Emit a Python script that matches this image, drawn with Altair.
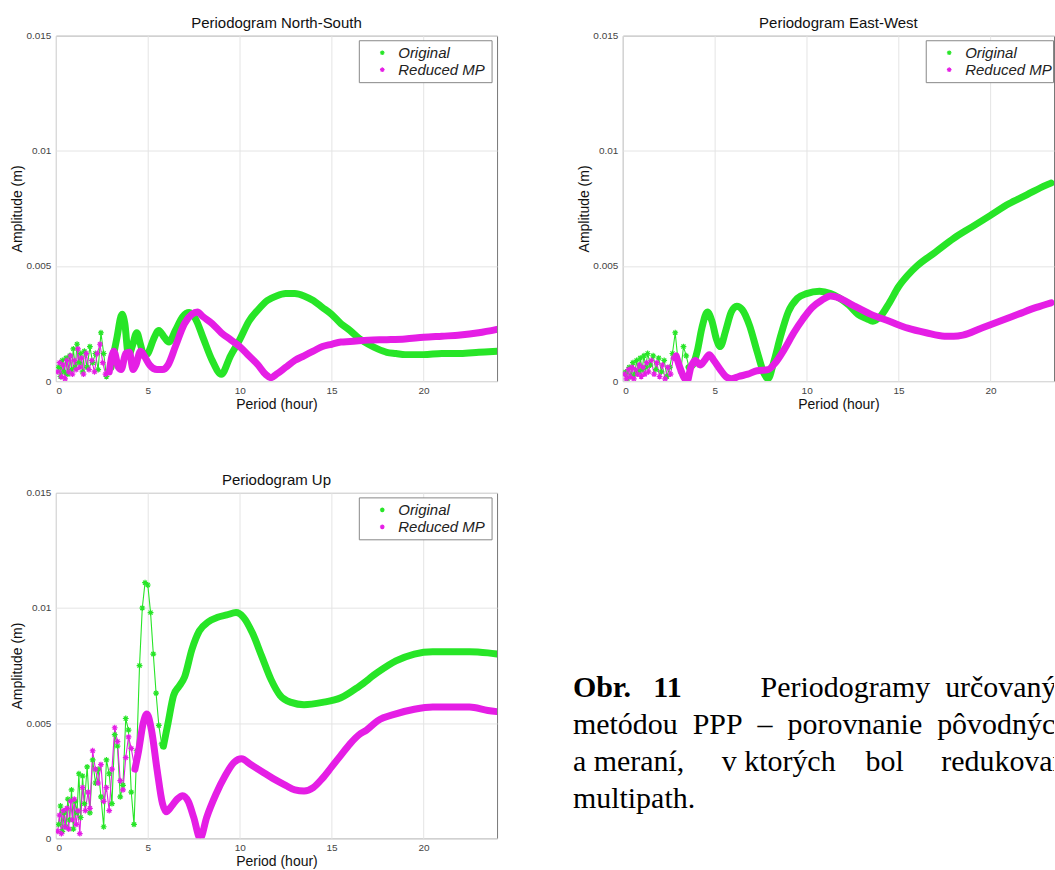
import altair as alt
import pandas as pd

GREEN = "#27e527"
MAGENTA = "#e51ee5"
ASTERISK = "M-1,0L1,0M0,-1L0,1M-0.7,-0.7L0.7,0.7M-0.7,0.7L0.7,-0.7"

series_names = ["Original", "Reduced MP"]
period_ticks = [0, 5, 10, 15, 20]
amp_ticks = [0, 0.005, 0.01, 0.015]

# ---------------- North-South ----------------
ns_orig_sparse = [(0.15, 0.0006), (0.25, 0.0002), (0.35, 0.0009), (0.45, 0.0004), (0.55, 0.0010),
                  (0.65, 0.0003), (0.75, 0.0011), (0.85, 0.0005), (0.95, 0.0014), (1.05, 0.0006),
                  (1.15, 0.0016), (1.25, 0.0008), (1.35, 0.0012), (1.45, 0.0004), (1.55, 0.0013),
                  (1.7, 0.0006), (1.85, 0.0015), (2.0, 0.0008), (2.15, 0.0012), (2.3, 0.0005),
                  (2.45, 0.0021), (2.6, 0.0012), (2.75, 0.0002), (2.9, 0.0004)]
ns_orig_dense = [(3.0, 0.0006), (3.3, 0.0018), (3.6, 0.0029), (3.75, 0.0025), (3.95, 0.0011),
                 (4.15, 0.0015), (4.4, 0.0021), (4.6, 0.0016), (4.8, 0.0011), (5.0, 0.0012),
                 (5.3, 0.0018), (5.6, 0.0022), (5.9, 0.0019), (6.15, 0.0017), (6.5, 0.0022),
                 (6.9, 0.0028), (7.25, 0.00298), (7.6, 0.0027), (8.0, 0.0019), (8.5, 0.0009),
                 (9.0, 0.0003), (9.5, 0.0011), (10.0, 0.0018), (10.5, 0.0026), (11.0, 0.0031),
                 (11.5, 0.0035), (12.0, 0.0037), (12.5, 0.0038), (13.0, 0.0038), (13.5, 0.0037),
                 (14.0, 0.0035), (14.5, 0.0032), (15.0, 0.0029), (15.5, 0.0025), (16.0, 0.0022),
                 (16.5, 0.00185), (17.0, 0.0016), (17.5, 0.0014), (18.0, 0.00125), (18.5, 0.0012),
                 (19.0, 0.00115), (20.0, 0.00115), (21.0, 0.0012), (22.0, 0.0012), (23.0, 0.00125),
                 (24.0, 0.0013)]
ns_red_sparse = [(0.1, 0.0004), (0.2, 0.0008), (0.3, 0.0002), (0.4, 0.0007), (0.5, 0.0001),
                 (0.6, 0.0009), (0.7, 0.0004), (0.8, 0.0011), (0.9, 0.0003), (1.0, 0.0009),
                 (1.1, 0.0005), (1.2, 0.0014), (1.3, 0.0006), (1.4, 0.0010), (1.5, 0.0003),
                 (1.65, 0.0012), (1.8, 0.0005), (1.95, 0.0009), (2.1, 0.0004), (2.25, 0.0012),
                 (2.4, 0.0016), (2.55, 0.0008), (2.7, 0.0003)]
ns_red_dense = [(2.9, 0.0004), (3.15, 0.0013), (3.4, 0.0006), (3.55, 0.0005), (3.8, 0.0012),
                (4.0, 0.00125), (4.2, 0.0005), (4.35, 0.0007), (4.6, 0.0013), (4.8, 0.0011),
                (5.1, 0.0007), (5.5, 0.0005), (5.8, 0.0005), (6.1, 0.0007), (6.5, 0.0015),
                (7.0, 0.0025), (7.4, 0.0029), (7.7, 0.0030), (8.0, 0.0028), (8.5, 0.0025),
                (9.0, 0.0021), (9.5, 0.0018), (10.0, 0.0015), (10.5, 0.0011), (11.0, 0.0007),
                (11.4, 0.0003), (11.7, 0.00015), (12.0, 0.0003), (12.5, 0.0006), (13.0, 0.0009),
                (13.5, 0.0011), (14.0, 0.0013), (14.5, 0.0015), (15.0, 0.0016), (15.5, 0.0017),
                (16.0, 0.00172), (17.0, 0.00178), (18.0, 0.0018), (19.0, 0.00183), (20.0, 0.0019),
                (21.0, 0.00195), (22.0, 0.0020), (23.0, 0.0021), (24.0, 0.00225)]

# ---------------- East-West (the figure is cut at ~23.4 h by the page edge) ----------------
ew_orig_sparse = [(0.15, 0.0004), (0.25, 0.0001), (0.35, 0.0006), (0.45, 0.0002), (0.55, 0.0008),
                  (0.65, 0.0003), (0.75, 0.0009), (0.85, 0.0004), (0.95, 0.0010), (1.05, 0.0005),
                  (1.15, 0.0011), (1.25, 0.0006), (1.35, 0.0012), (1.5, 0.0007), (1.65, 0.0011),
                  (1.8, 0.0005), (1.95, 0.0010), (2.1, 0.0004), (2.25, 0.0009), (2.4, 0.0002),
                  (2.55, 0.0006), (2.7, 0.0012), (2.85, 0.0021), (3.0, 0.0009), (3.15, 0.0004),
                  (3.3, 0.0015), (3.45, 0.0011)]
ew_orig_dense = [(3.6, 0.0006), (3.8, 0.0007), (4.05, 0.0013), (4.3, 0.0023), (4.6, 0.0030),
                 (4.85, 0.0026), (5.1, 0.0018), (5.3, 0.0015), (5.6, 0.0022), (5.9, 0.0030),
                 (6.2, 0.00325), (6.5, 0.0031), (6.9, 0.0024), (7.3, 0.0013), (7.7, 0.0003),
                 (7.9, 0.0001), (8.2, 0.0008), (8.6, 0.0020), (9.0, 0.0030), (9.5, 0.0036),
                 (10.0, 0.0038), (10.7, 0.0039), (11.3, 0.0038), (11.8, 0.0036), (12.3, 0.0033),
                 (12.8, 0.0029), (13.3, 0.0027), (13.6, 0.0026), (14.0, 0.0028), (14.5, 0.0034),
                 (15.0, 0.0041), (15.5, 0.0046), (16.0, 0.0050), (17.0, 0.0056), (18.0, 0.0062),
                 (19.0, 0.0067), (20.0, 0.0072), (21.0, 0.0077), (22.0, 0.0081), (23.0, 0.0085),
                 (23.3, 0.0086)]
ew_red_sparse = [(0.1, 0.0003), (0.2, 0.0001), (0.3, 0.0005), (0.4, 0.0002), (0.5, 0.0006),
                 (0.6, 0.0001), (0.7, 0.0005), (0.8, 0.0003), (0.9, 0.0007), (1.0, 0.0002),
                 (1.1, 0.0006), (1.2, 0.0003), (1.3, 0.0008), (1.4, 0.0004), (1.55, 0.0009),
                 (1.7, 0.0003), (1.85, 0.0008), (2.0, 0.0002), (2.15, 0.0007), (2.3, 0.0001),
                 (2.45, 0.0006), (2.6, 0.0003), (2.75, 0.0010)]
ew_red_dense = [(2.9, 0.0011), (3.1, 0.0006), (3.3, 0.0002), (3.5, 0.0000), (3.7, 0.0006),
                (3.95, 0.0009), (4.2, 0.0007), (4.45, 0.0009), (4.7, 0.00115), (4.95, 0.0009),
                (5.3, 0.0005), (5.6, 0.0002), (5.9, 0.0001), (6.3, 0.0002), (6.8, 0.0003),
                (7.3, 0.00045), (7.9, 0.0005), (8.3, 0.0008), (8.8, 0.0014), (9.3, 0.0021),
                (9.8, 0.0027), (10.3, 0.0032), (10.8, 0.0035), (11.3, 0.0037), (11.8, 0.0036),
                (12.5, 0.0033), (13.5, 0.0029), (14.5, 0.0026), (15.5, 0.0023), (16.5, 0.0021),
                (17.5, 0.00195), (18.0, 0.00195), (18.5, 0.0020), (19.5, 0.0023), (20.5, 0.0026),
                (21.5, 0.0029), (22.5, 0.0032), (23.3, 0.0034)]

# ---------------- Up ----------------
up_orig_sparse = [(0.15, 0.0006), (0.25, 0.0014), (0.35, 0.0003), (0.45, 0.0011), (0.55, 0.0005),
                  (0.65, 0.0017), (0.75, 0.0008), (0.85, 0.0021), (0.95, 0.0004), (1.05, 0.0016),
                  (1.15, 0.0011), (1.25, 0.0028), (1.35, 0.0009), (1.45, 0.0027), (1.55, 0.0015),
                  (1.7, 0.0031), (1.85, 0.0011), (2.0, 0.0034), (2.15, 0.0024), (2.3, 0.0030),
                  (2.45, 0.0018), (2.6, 0.0005), (2.75, 0.0034), (2.9, 0.0028), (3.05, 0.0015),
                  (3.2, 0.0045), (3.35, 0.0040), (3.5, 0.0018), (3.65, 0.0023), (3.8, 0.0052),
                  (3.95, 0.0047), (4.1, 0.0020), (4.25, 0.0006), (4.4, 0.0038), (4.55, 0.0075),
                  (4.7, 0.0100), (4.85, 0.0111), (5.0, 0.0110), (5.15, 0.0098), (5.3, 0.0080),
                  (5.45, 0.0063), (5.6, 0.0049), (5.75, 0.0041)]
up_orig_dense = [(5.85, 0.0040), (6.1, 0.0050), (6.4, 0.0062), (6.7, 0.0066), (7.0, 0.0070),
                 (7.4, 0.0082), (7.8, 0.0090), (8.3, 0.0094), (8.8, 0.0096), (9.3, 0.0097),
                 (9.8, 0.0098), (10.2, 0.0096), (10.7, 0.0089), (11.2, 0.0079), (11.7, 0.0069),
                 (12.2, 0.0062), (12.8, 0.0059), (13.5, 0.0058), (14.5, 0.0059), (15.5, 0.0061),
                 (16.5, 0.0066), (17.5, 0.0072), (18.5, 0.0077), (19.5, 0.0080), (20.5, 0.0081),
                 (21.5, 0.0081), (22.5, 0.0081), (23.5, 0.00805), (24.0, 0.0080)]
up_red_sparse = [(0.1, 0.0003), (0.2, 0.0010), (0.3, 0.0002), (0.4, 0.0012), (0.5, 0.0005),
                 (0.6, 0.0013), (0.7, 0.0004), (0.8, 0.0016), (0.9, 0.0008), (1.0, 0.0017),
                 (1.1, 0.0006), (1.2, 0.0012), (1.3, 0.0002), (1.45, 0.0022), (1.6, 0.0012),
                 (1.75, 0.0020), (1.85, 0.0013), (2.0, 0.0038), (2.15, 0.0030), (2.3, 0.0024),
                 (2.45, 0.0032), (2.6, 0.0016), (2.75, 0.0022), (2.9, 0.0012), (3.05, 0.0030),
                 (3.2, 0.0048), (3.35, 0.0042), (3.5, 0.0025), (3.65, 0.0021), (3.8, 0.0035),
                 (3.95, 0.0044), (4.1, 0.0039)]
up_red_dense = [(4.3, 0.0030), (4.5, 0.0038), (4.75, 0.0050), (4.95, 0.0054), (5.2, 0.0047),
                (5.5, 0.0030), (5.8, 0.0015), (6.0, 0.00115), (6.3, 0.0014), (6.6, 0.0017),
                (6.9, 0.00185), (7.2, 0.0016), (7.5, 0.0009), (7.85, 0.0000), (8.2, 0.0009),
                (8.7, 0.0019), (9.2, 0.0027), (9.7, 0.0033), (10.1, 0.00345), (10.6, 0.0032),
                (11.2, 0.0029), (11.8, 0.0026), (12.5, 0.0023), (13.0, 0.0021), (13.5, 0.00205),
                (14.0, 0.0022), (14.5, 0.0026), (15.0, 0.0031), (15.5, 0.0036), (16.0, 0.0041),
                (16.5, 0.0045), (16.9, 0.0047), (17.5, 0.0051), (18.5, 0.0054), (19.5, 0.0056),
                (20.5, 0.0057), (21.5, 0.0057), (22.5, 0.0057), (23.5, 0.00555), (24.0, 0.0055)]

# ---------------- Caption ----------------
NB = "\u00a0"
caption_label = "Obr." + NB * 3 + "11"
caption_first = "Periodogramy" + NB * 2 + "určovaných" + NB * 2 + "súradníc"
caption_rest = [
    "metódou" + NB * 2 + "PPP" + NB * 2 + "–" + NB * 2 + "porovnanie" + NB * 2 + "pôvodných",
    "a meraní," + NB * 5 + "v ktorých" + NB * 4 + "bol" + NB * 5 + "redukovaný",
    "multipath.",
]

PW, PH = 442, 346
PX_PER_HOUR = PW / 24
GRID = "#e4e4e4"


def make_df(orig_sparse, orig_dense, red_sparse, red_dense):
    rows = []
    for name, sparse, dense in [("Original", orig_sparse, orig_dense),
                                ("Reduced MP", red_sparse, red_dense)]:
        for p, a in sparse:
            rows.append({"period": p, "amp": a, "series": name, "part": "sparse"})
        for p, a in dense:
            rows.append({"period": p, "amp": a, "series": name, "part": "dense"})
    return pd.DataFrame(rows)


def legend_layers(width):
    # legend box drawn inside the plot (clipped by the page edge for East-West)
    box_df = pd.DataFrame({"k": [0]})
    lab_df = pd.DataFrame({"series": series_names})
    box = alt.Chart(box_df).mark_rect(fill="white", stroke="#888", strokeWidth=1, clip=True).encode(
        x=alt.value(PW - 138), x2=alt.value(min(PW - 5, width - 0.5)),
        y=alt.value(5), y2=alt.value(47))
    layers = [box]
    for i, (name, col) in enumerate(zip(series_names, [GREEN, MAGENTA])):
        yy = 17 + 17 * i
        sub = alt.Chart(lab_df).transform_filter(alt.datum.series == name)
        layers.append(sub.mark_point(shape=ASTERISK, filled=False, size=22, strokeWidth=1.2,
                                     opacity=1, clip=True).encode(
            x=alt.value(PW - 115), y=alt.value(yy), color=alt.value(col)))
        layers.append(sub.mark_text(align="left", baseline="middle", font="Liberation Sans",
                                    fontSize=15, fontStyle="italic", color="#222", clip=True).encode(
            x=alt.value(PW - 99), y=alt.value(yy), text="series:N"))
    return layers


def panel(title, df, width=PW):
    base = alt.Chart(df)
    x = alt.X("period:Q", scale=alt.Scale(domain=[0, width / PX_PER_HOUR], nice=False),
              axis=alt.Axis(values=period_ticks, format="d", title="Period (hour)"))
    y = alt.Y("amp:Q", scale=alt.Scale(domain=[0, 0.015], nice=False),
              axis=alt.Axis(values=amp_ticks, labelExpr="format(datum.value, '~g')",
                            title="Amplitude (m)"))
    cscale = alt.Scale(domain=series_names, range=[GREEN, MAGENTA])
    color = alt.Color("series:N", scale=cscale, legend=None)
    thin = base.mark_line(strokeWidth=1.1, clip=True).encode(x=x, y=y, color=color)
    pts = base.transform_filter(alt.datum.part == "sparse").mark_point(
        shape=ASTERISK, filled=False, size=34, strokeWidth=1.2, opacity=1, clip=True
    ).encode(x=x, y=y, color=color)
    thick = base.transform_filter(alt.datum.part == "dense").mark_line(
        strokeWidth=7, interpolate="monotone", strokeCap="round", strokeJoin="round", clip=True
    ).encode(x=x, y=y, color=color)
    return alt.layer(thin, pts, thick, *legend_layers(width)).properties(
        width=width, height=PH,
        title=alt.TitleParams(title, font="Liberation Sans", fontSize=15,
                              fontWeight="normal", color="#111", offset=0))


ns = panel("Periodogram North-South", make_df(ns_orig_sparse, ns_orig_dense, ns_red_sparse, ns_red_dense))
ew = panel("Periodogram East-West", make_df(ew_orig_sparse, ew_orig_dense, ew_red_sparse, ew_red_dense),
           width=432)
up = panel("Periodogram Up", make_df(up_orig_sparse, up_orig_dense, up_red_sparse, up_red_dense))

cap_label_df = pd.DataFrame({"line": [0], "text": [caption_label]})
cap_first_df = pd.DataFrame({"line": [0], "text": [caption_first]})
cap_rest_df = pd.DataFrame({"line": list(range(1, len(caption_rest) + 1)), "text": caption_rest})
cap_y = alt.Y("line:Q", scale=alt.Scale(domain=[0, 3], range=[195, 307]), axis=None)
text_kw = dict(font="Liberation Serif", fontSize=30, align="left", baseline="middle",
               color="black", clip=True)
cap_a = alt.Chart(cap_label_df).mark_text(fontWeight="bold", **text_kw).encode(
    x=alt.value(0), y=cap_y, text="text:N")
cap_b = alt.Chart(cap_first_df).mark_text(dx=188, **text_kw).encode(
    x=alt.value(0), y=cap_y, text="text:N")
cap_c = alt.Chart(cap_rest_df).mark_text(**text_kw).encode(
    x=alt.value(0), y=cap_y, text="text:N")
caption = alt.layer(cap_a, cap_b, cap_c).properties(
    width=482, height=PH, view=alt.ViewBackground(stroke="transparent"))

top = alt.hconcat(ns, ew, spacing=126, bounds="flush")
bottom = alt.hconcat(up, caption, spacing=76, bounds="flush")
chart = alt.vconcat(top, bottom, spacing=PH + 112, bounds="flush").properties(
    padding={"left": 10, "top": 14, "right": 0, "bottom": 0},
    background="white",
).configure_axis(
    labelFont="Liberation Sans", labelFontSize=10, labelColor="#444",
    titleFont="Liberation Sans", titleFontSize=14, titleFontWeight="normal", titleColor="#111",
    gridColor=GRID, gridWidth=1, domain=False, ticks=False, labelPadding=5,
).configure_axisY(titlePadding=1).configure_axisX(labelPadding=4, titlePadding=2).configure_view(
    stroke="#777", strokeWidth=1)

chart.save("out.html", embed_options={"renderer": "svg", "actions": False})
